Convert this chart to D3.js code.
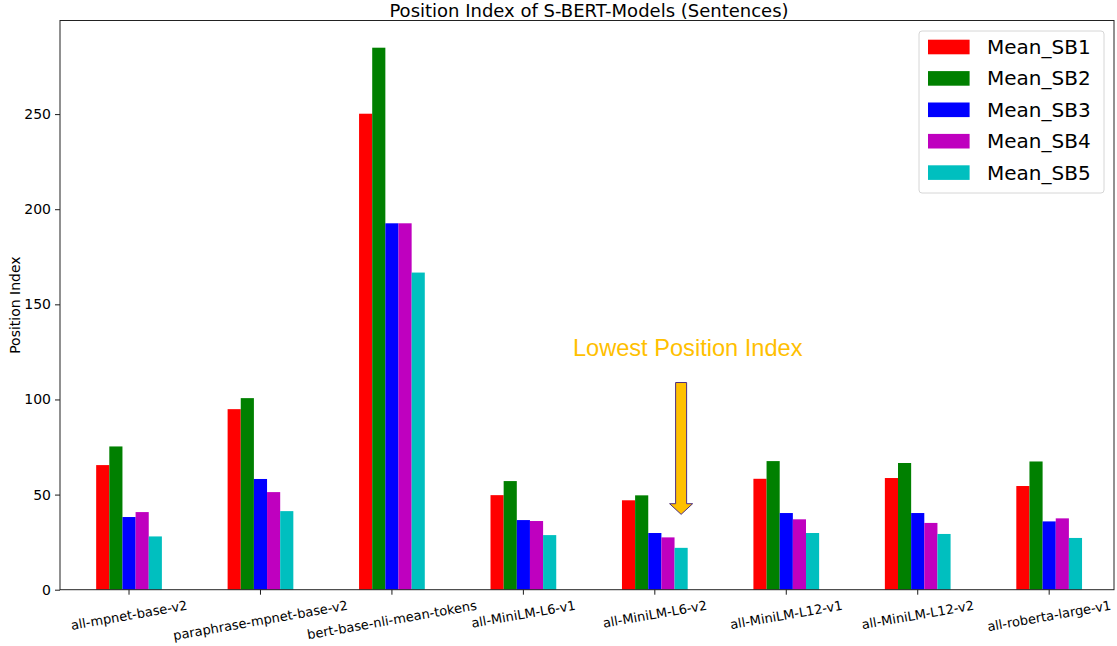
<!DOCTYPE html>
<html>
<head>
<meta charset="utf-8">
<script src="https://cdn.jsdelivr.net/npm/d3@7"></script>
<style>
  body { margin: 0; background: #fff; }
  text { font-family: "DejaVu Sans", sans-serif; }
</style>
</head>
<body>
<div id="chart"></div>
<script>
// data
const models = ["all-mpnet-base-v2", "paraphrase-mpnet-base-v2", "bert-base-nli-mean-tokens",
  "all-MiniLM-L6-v1", "all-MiniLM-L6-v2", "all-MiniLM-L12-v1", "all-MiniLM-L12-v2", "all-roberta-large-v1"];
const seriesNames = ["Mean_SB1", "Mean_SB2", "Mean_SB3", "Mean_SB4", "Mean_SB5"];
const meanSB1 = [65.5, 94.9, 250.2, 49.7, 47.0, 58.3, 58.7, 54.5];
const meanSB2 = [75.3, 100.7, 284.9, 57.1, 49.6, 67.6, 66.6, 67.4];
const meanSB3 = [38.2, 58.2, 192.6, 36.6, 29.8, 40.3, 40.3, 35.9];
const meanSB4 = [40.8, 51.3, 192.6, 36.1, 27.5, 37.0, 35.1, 37.5];
const meanSB5 = [28.0, 41.3, 166.7, 28.7, 22.0, 29.8, 29.3, 27.2];
const yTicks = [0, 50, 100, 150, 200, 250];
// annotation in data units (x = model index, y = position index)
const arrowNote = { label: "Lowest Position Index", textX: 4.25, textY: 122.7, x: 4.2, yTop: 108.9, yHead: 45.2, yTip: 39.6 };

const seriesValues = [meanSB1, meanSB2, meanSB3, meanSB4, meanSB5];
const colors = ["#ff0000", "#008000", "#0000ff", "#bf00bf", "#00bfbf"];

// layout
const WIDTH = 1117, HEIGHT = 646;
const LEFT = 60, RIGHT = 1114, TOP = 20.5, BOTTOM = 589.7;
const BAND_LEFT = 63.3, BAND_RIGHT = 1114.9;
const BAR_FRAC = 0.1;

const svg = d3.select("#chart").append("svg")
  .attr("width", WIDTH)
  .attr("height", HEIGHT);

const x = d3.scaleBand().domain(models).range([BAND_LEFT, BAND_RIGHT]).padding(0);
const xi = d3.scaleLinear().domain([-0.5, models.length - 0.5]).range([BAND_LEFT, BAND_RIGHT]);
const y = d3.scaleLinear().domain([0, 299.2]).range([BOTTOM, TOP]);

const bw = x.bandwidth() * BAR_FRAC;

// bars
const rows = [];
seriesValues.forEach((vals, s) => {
  vals.forEach((v, i) => rows.push({ s: s, model: models[i], v: v }));
});

svg.append("g").attr("id", "bars")
  .selectAll("rect")
  .data(rows)
  .join("rect")
  .attr("x", d => x(d.model) + x.bandwidth() / 2 + (d.s - 2.5) * bw)
  .attr("y", d => y(d.v))
  .attr("width", bw)
  .attr("height", d => y(0) - y(d.v))
  .attr("fill", d => colors[d.s]);

// y axis
const yAxis = svg.append("g")
  .attr("transform", `translate(${LEFT},0)`)
  .call(d3.axisLeft(y).tickValues(yTicks).tickSize(5).tickPadding(4));
yAxis.select(".domain").remove();
yAxis.selectAll("line").attr("stroke", "#000").attr("stroke-width", 0.9);
yAxis.selectAll("text").style("font-size", "14px").attr("fill", "#000");

// x axis
const xAxis = svg.append("g")
  .attr("transform", `translate(0,${BOTTOM})`)
  .call(d3.axisBottom(x).tickSize(5).tickFormat(""));
xAxis.select(".domain").remove();
xAxis.selectAll("line").attr("stroke", "#000").attr("stroke-width", 0.9);

// rotated tick labels, centred under each tick like matplotlib
const ang = 10 * Math.PI / 180;
svg.append("g").attr("id", "xlabels")
  .selectAll("text")
  .data(models)
  .join("text")
  .text(d => d)
  .style("font-size", "13px")
  .attr("text-anchor", "middle")
  .attr("dominant-baseline", "central")
  .each(function (d) {
    const w = this.getComputedTextLength();
    const h = 13 * 1.15;
    const boxH = w * Math.sin(ang) + h * Math.cos(ang);
    const cx = x(d) + x.bandwidth() / 2;
    const cy = BOTTOM + 8 + boxH / 2;
    d3.select(this).attr("transform", `translate(${cx},${cy}) rotate(-10)`);
  });

// frame
svg.append("rect")
  .attr("x", LEFT).attr("y", TOP)
  .attr("width", RIGHT - LEFT).attr("height", BOTTOM - TOP)
  .attr("fill", "none")
  .attr("stroke", "#222")
  .attr("stroke-width", 1);

// title and axis label
svg.append("text")
  .text("Position Index of S-BERT-Models (Sentences)")
  .attr("x", 589)
  .attr("y", 16.5)
  .attr("text-anchor", "middle")
  .style("font-size", "18px");

svg.append("text")
  .text("Position Index")
  .attr("transform", `translate(20,${(TOP + BOTTOM) / 2}) rotate(-90)`)
  .attr("text-anchor", "middle")
  .style("font-size", "14px");

// annotation arrow
const ax = xi(arrowNote.x);
const shaftHalf = 5.5, headHalf = 11.5;
const arrowPts = [
  [ax - shaftHalf, y(arrowNote.yTop)],
  [ax + shaftHalf, y(arrowNote.yTop)],
  [ax + shaftHalf, y(arrowNote.yHead)],
  [ax + headHalf, y(arrowNote.yHead)],
  [ax, y(arrowNote.yTip)],
  [ax - headHalf, y(arrowNote.yHead)],
  [ax - shaftHalf, y(arrowNote.yHead)]
];
svg.append("path")
  .attr("d", d3.line()(arrowPts) + "Z")
  .attr("fill", "#ffc000")
  .attr("stroke", "#4b2c7f")
  .attr("stroke-width", 1);

svg.append("text")
  .text(arrowNote.label)
  .attr("x", xi(arrowNote.textX))
  .attr("y", y(arrowNote.textY))
  .attr("text-anchor", "middle")
  .attr("fill", "#ffc000")
  .style("font-family", "'Liberation Sans', Arial, sans-serif")
  .style("font-size", "23.6px");

// legend
const legend = svg.append("g").attr("transform", "translate(919,31)");
legend.append("rect")
  .attr("width", 185).attr("height", 162)
  .attr("rx", 3)
  .attr("fill", "#fff").attr("fill-opacity", 0.8)
  .attr("stroke", "#d6d6d6");

const items = legend.selectAll("g.item")
  .data(seriesNames)
  .join("g")
  .attr("class", "item")
  .attr("transform", (d, i) => `translate(9,${8.7 + i * 31.4})`);

items.append("rect")
  .attr("width", 41.6).attr("height", 14.6)
  .attr("fill", (d, i) => colors[i]);

items.append("text")
  .text(d => d)
  .attr("x", 59)
  .attr("y", 7.3)
  .attr("dominant-baseline", "central")
  .style("font-size", "20px");
</script>
</body>
</html>
